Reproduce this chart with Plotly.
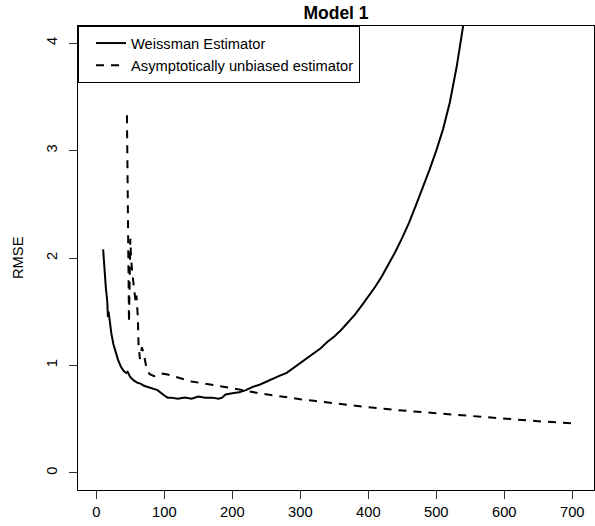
import plotly.graph_objects as go

# Weissman estimator RMSE (solid)
weissman_k = [10, 12, 14, 16, 17, 18, 20, 22, 25, 28, 32, 36, 40, 44, 46, 50, 55, 60, 65, 70,
              80, 90, 100, 105, 110, 120, 130, 140, 150, 160, 170, 180, 185, 190, 200, 210,
              220, 230, 240, 250, 260, 270, 280, 290, 300, 310, 320, 330, 340, 350, 360,
              370, 380, 390, 400, 410, 420, 430, 440, 450, 460, 470, 480, 490, 500, 510,
              520, 530, 540, 550]
weissman_rmse = [2.08, 1.85, 1.72, 1.60, 1.45, 1.50, 1.38, 1.30, 1.20, 1.13, 1.05, 0.99, 0.95,
                 0.93, 0.94, 0.89, 0.86, 0.84, 0.83, 0.81, 0.79, 0.77, 0.72, 0.70, 0.70, 0.69,
                 0.70, 0.69, 0.71, 0.70, 0.70, 0.69, 0.70, 0.73, 0.74, 0.75, 0.77, 0.80, 0.82,
                 0.85, 0.88, 0.905, 0.93, 0.975, 1.02, 1.065, 1.11, 1.16, 1.22, 1.27, 1.33,
                 1.40, 1.47, 1.555, 1.64, 1.73, 1.83, 1.94, 2.06, 2.19, 2.33, 2.49, 2.65,
                 2.82, 3.00, 3.20, 3.45, 3.78, 4.18, 4.60]

# Asymptotically unbiased estimator RMSE (dashed)
unbiased_k = [45, 45.5, 46, 47, 48, 50, 51, 53, 55, 57, 58, 59, 61, 62, 64, 67, 70, 73, 78, 85,
              95, 105, 120, 140, 160, 180, 200, 220, 240, 260, 280, 300, 320, 350, 400, 450,
              500, 550, 600, 650, 705]
unbiased_rmse = [3.33, 3.00, 3.05, 2.30, 1.40, 2.18, 2.00, 1.85, 1.75, 1.62, 1.58, 1.65, 1.45,
                 1.20, 1.06, 1.17, 1.10, 1.00, 0.92, 0.90, 0.925, 0.915, 0.89, 0.85, 0.83, 0.81,
                 0.79, 0.765, 0.74, 0.72, 0.70, 0.685, 0.67, 0.645, 0.61, 0.58, 0.555, 0.53,
                 0.50, 0.48, 0.46]

x_ticks = [0, 100, 200, 300, 400, 500, 600, 700]
y_ticks = [0, 1, 2, 3, 4]

FONT = "Liberation Sans, Arial, sans-serif"
FS = 14.7

fig = go.Figure()
fig.add_trace(go.Scatter(x=weissman_k, y=weissman_rmse, mode="lines",
                         name="Weissman Estimator",
                         line=dict(color="black", width=2)))
fig.add_trace(go.Scatter(x=unbiased_k, y=unbiased_rmse, mode="lines",
                         name="Asymptotically unbiased estimator",
                         line=dict(color="black", width=2, dash="8px,7px")))

axis_common = dict(showline=True, mirror=True, linecolor="black", linewidth=1,
                   ticks="outside", ticklen=8, tickcolor="#333", tickwidth=1,
                   showgrid=False, zeroline=False,
                   tickfont=dict(family=FONT, size=FS, color="black"))

fig.update_layout(
    width=595, height=526,
    margin=dict(l=78, r=1, t=26, b=36),
    paper_bgcolor="white", plot_bgcolor="white",
    font=dict(family=FONT, size=FS, color="black"),
    title=dict(text="<b>Model 1</b>", x=0.5, xref="paper", xanchor="center",
               y=1 - 13 / 526, yref="container", yanchor="middle",
               font=dict(family=FONT, size=17.5, color="black")),
    xaxis=dict(range=[-27, 732], tickvals=x_ticks, **axis_common),
    yaxis=dict(range=[-0.16, 4.16], tickvals=y_ticks, tickangle=-90,
               ticklabelstandoff=6, **axis_common),
    legend=dict(x=0, y=1, xanchor="left", yanchor="top",
                bordercolor="black", borderwidth=1, bgcolor="white",
                indentation=12,
                font=dict(family=FONT, size=FS, color="black")),
    showlegend=True,
    annotations=[dict(text="RMSE", xref="paper", yref="paper", x=0, y=0.5,
                      xanchor="center", yanchor="middle", xshift=-60,
                      textangle=-90, showarrow=False,
                      font=dict(family=FONT, size=FS, color="black"))],
)

fig.write_html("out.html")
